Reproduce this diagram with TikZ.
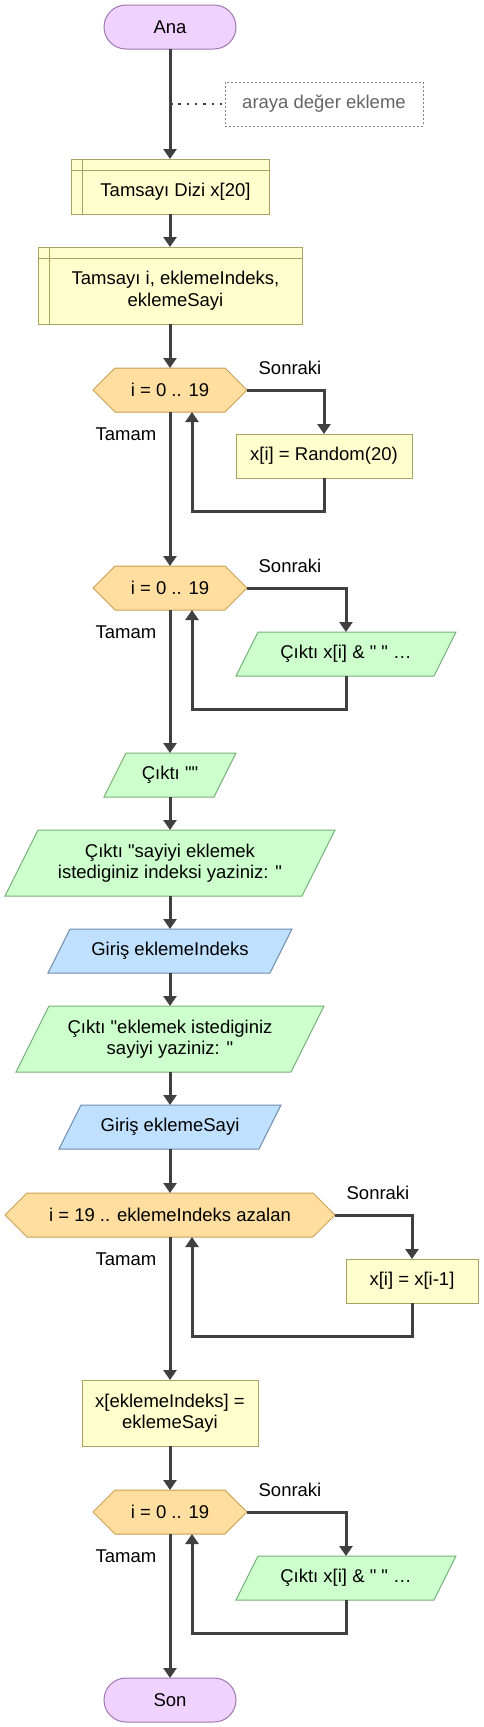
\documentclass[tikz,border=0pt]{standalone}
\usepackage{fontspec}
\setmainfont{Liberation Sans}[Ligatures=TeXOff]
\usetikzlibrary{arrows.meta,calc,backgrounds}
\definecolor{termfill}{RGB}{240,210,255}
\definecolor{termdraw}{RGB}{160,120,176}
\definecolor{boxfill}{RGB}{255,255,206}
\definecolor{boxdraw}{RGB}{168,162,100}
\definecolor{hexfill}{RGB}{255,222,160}
\definecolor{hexdraw}{RGB}{200,160,84}
\definecolor{grnfill}{RGB}{204,255,204}
\definecolor{grndraw}{RGB}{120,176,120}
\definecolor{blufill}{RGB}{192,224,255}
\definecolor{bludraw}{RGB}{110,140,176}
\definecolor{linec}{RGB}{64,64,64}
\definecolor{cmtc}{RGB}{100,100,100}
\newcommand\hexbg[1]{\path[fill=hexfill,draw=hexdraw,line width=1pt] (#1.west) -- ($(#1.north west)+(22,0)$) -- ($(#1.north east)+(-22,0)$) -- (#1.east) -- ($(#1.south east)+(-22,0)$) -- ($(#1.south west)+(22,0)$) -- cycle;}
\newcommand\parabg[4]{\path[fill=#3,draw=#4,line width=1pt] (#1.south west) -- ($(#1.north west)+(#2,0)$) -- (#1.north east) -- ($(#1.south east)+(-#2,0)$) -- cycle;}
\newcommand\declmark[1]{\draw[boxdraw,line width=1pt] ($(#1.north west)+(11,0)$) -- ($(#1.south west)+(11,0)$) ($(#1.north west)+(0,11)$) -- ($(#1.north east)+(0,11)$);}
\newcommand\decltext[1]{\raisebox{0pt}[\dimexpr\height+11pt\relax][\depth]{\hspace*{11pt}#1}}
\begin{document}
\begin{tikzpicture}[x=1pt,y=-1pt,
  every node/.style={font=\fontsize{18.5}{21.5}\selectfont,inner sep=0pt,outer sep=0pt,align=center},
  term/.style={draw=termdraw,fill=termfill,line width=1pt,rounded corners=22pt,minimum width=132pt,minimum height=44pt},
  procbox/.style={draw=boxdraw,fill=boxfill,line width=1pt},
  hexnode/.style={minimum height=44pt},
  lbl/.style={},
  arr/.style={draw=linec,line width=3pt,-{Triangle[width=13pt,length=10pt]}}
]
\useasboundingbox (0,0) rectangle (484,1727);
% nodes
\node[term] (ana) at (170,27) {Ana};
\node[draw=cmtc!80,dash pattern=on 2pt off 2pt,line width=1pt,minimum width=198pt,minimum height=44pt,text=cmtc] (cmt) at (324,104) {araya değer ekleme};
\node[procbox,minimum width=198pt,minimum height=55pt] (dizi) at (170,186.5) {\decltext{Tamsayı Dizi x[20]}};
\node[procbox,minimum width=264pt,minimum height=77pt] (decl) at (170,285.5) {\decltext{\begin{tabular}{@{}c@{}}Tamsayı i, eklemeIndeks,\\ eklemeSayi\end{tabular}}};
\node[hexnode,minimum width=154pt] (hexa) at (170,390) {i = 0 .. 19};
\node[procbox,minimum width=176pt,minimum height=44pt] (rnd) at (324,456) {x[i] = Random(20)};
\node[hexnode,minimum width=154pt] (hexb) at (170,588) {i = 0 .. 19};
\node[minimum width=220pt,minimum height=44pt] (outa) at (346,654) {Çıktı x[i] \& " " …};
\node[minimum width=132pt,minimum height=44pt] (oute) at (170,775) {Çıktı ""};
\node[minimum width=330pt,minimum height=66pt] (outb) at (170,863) {Çıktı "sayiyi eklemek\\istediginiz indeksi yaziniz: "};
\node[minimum width=244pt,minimum height=44pt] (ina) at (170,951) {Giriş eklemeIndeks};
\node[minimum width=308pt,minimum height=66pt] (outc) at (170,1039) {Çıktı "eklemek istediginiz\\sayiyi yaziniz: "};
\node[minimum width=222pt,minimum height=44pt] (inb) at (170,1127) {Giriş eklemeSayi};
\node[hexnode,minimum width=330pt] (hexc) at (170,1215) {i = 19 .. eklemeIndeks azalan};
\node[procbox,minimum width=132pt,minimum height=44pt] (shift) at (412,1281) {x[i] = x[i-1]};
\node[procbox,minimum width=176pt,minimum height=66pt] (asg) at (170,1413) {x[eklemeIndeks] =\\eklemeSayi};
\node[hexnode,minimum width=154pt] (hexd) at (170,1512) {i = 0 .. 19};
\node[minimum width=220pt,minimum height=44pt] (outd) at (346,1578) {Çıktı x[i] \& " " …};
\node[term] (son) at (170,1700) {Son};
% labels
\node[lbl] (sa) at (290,368) {Sonraki};
\node[lbl] (ta) at (126,434) {Tamam};
\node[lbl] (sb) at (290,566) {Sonraki};
\node[lbl] (tb) at (126,632) {Tamam};
\node[lbl] (sc) at (378,1193) {Sonraki};
\node[lbl] (tc) at (126,1259) {Tamam};
\node[lbl] (sd) at (290,1490) {Sonraki};
\node[lbl] (td) at (126,1556) {Tamam};
% background shapes
\begin{scope}[on background layer]
\hexbg{hexa}
\hexbg{hexb}
\hexbg{hexc}
\hexbg{hexd}
\parabg{outa}{22}{grnfill}{grndraw}
\parabg{oute}{22}{grnfill}{grndraw}
\parabg{outb}{33}{grnfill}{grndraw}
\parabg{ina}{22}{blufill}{bludraw}
\parabg{outc}{33}{grnfill}{grndraw}
\parabg{inb}{22}{blufill}{bludraw}
\parabg{outd}{22}{grnfill}{grndraw}
\end{scope}
\declmark{dizi}
\declmark{decl}
% connectors
\coordinate (cm) at (170,104);
\draw[arr] (ana) -- (dizi);
\draw[draw=linec,line width=2.5pt,dash pattern=on 2.5pt off 5.8pt] (cm) -- (cmt.west);
\draw[arr] (dizi) -- (decl);
\draw[arr] (decl) -- (hexa);
\draw[arr] (hexa.east) -| (rnd.north);
\draw[arr] (rnd.south) -- ++(0,33) -| ($(hexa.south)+(22,0)$);
\draw[arr] (hexa) -- (hexb);
\draw[arr] (hexb.east) -| (outa.north);
\draw[arr] (outa.south) -- ++(0,33) -| ($(hexb.south)+(22,0)$);
\draw[arr] (hexb) -- (oute);
\draw[arr] (oute) -- (outb);
\draw[arr] (outb) -- (ina);
\draw[arr] (ina) -- (outc);
\draw[arr] (outc) -- (inb);
\draw[arr] (inb) -- (hexc);
\draw[arr] (hexc.east) -| (shift.north);
\draw[arr] (shift.south) -- ++(0,33) -| ($(hexc.south)+(22,0)$);
\draw[arr] (hexc) -- (asg);
\draw[arr] (asg) -- (hexd);
\draw[arr] (hexd.east) -| (outd.north);
\draw[arr] (outd.south) -- ++(0,33) -| ($(hexd.south)+(22,0)$);
\draw[arr] (hexd) -- (son);
\end{tikzpicture}
\end{document}
